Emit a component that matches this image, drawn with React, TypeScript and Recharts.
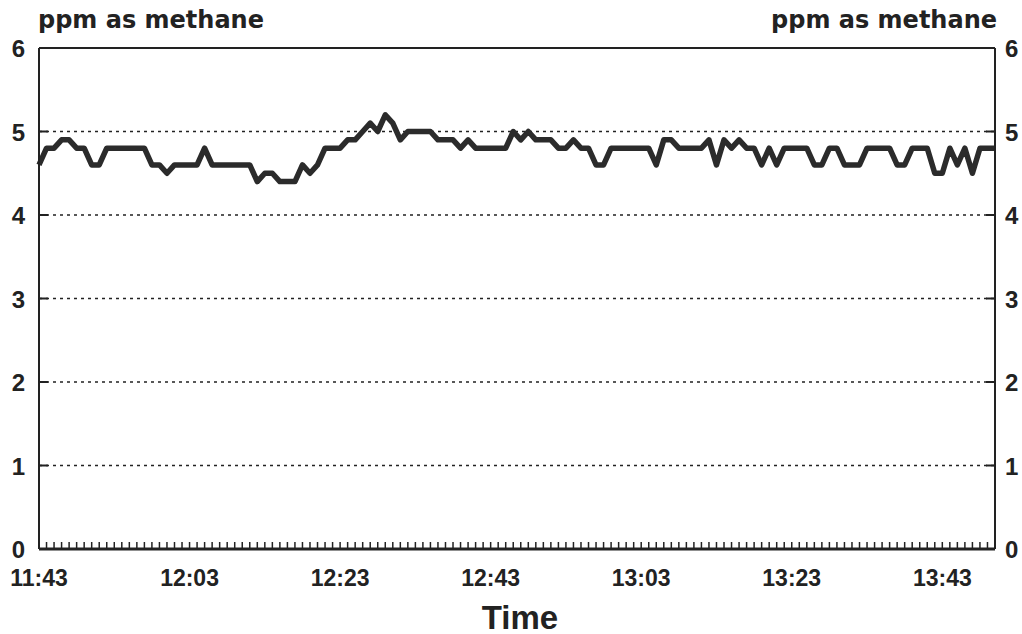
import { LineChart, Line, XAxis, YAxis, CartesianGrid, ReferenceLine } from 'recharts';

// minutes after 11:43, one reading per minute
const minutes = Array.from({ length: 128 }, (_, i) => i);
const ppm = [
  4.6, 4.8, 4.8, 4.9, 4.9, 4.8, 4.8, 4.6, 4.6, 4.8,
  4.8, 4.8, 4.8, 4.8, 4.8, 4.6, 4.6, 4.5, 4.6, 4.6,
  4.6, 4.6, 4.8, 4.6, 4.6, 4.6, 4.6, 4.6, 4.6, 4.4,
  4.5, 4.5, 4.4, 4.4, 4.4, 4.6, 4.5, 4.6, 4.8, 4.8,
  4.8, 4.9, 4.9, 5.0, 5.1, 5.0, 5.2, 5.1, 4.9, 5.0,
  5.0, 5.0, 5.0, 4.9, 4.9, 4.9, 4.8, 4.9, 4.8, 4.8,
  4.8, 4.8, 4.8, 5.0, 4.9, 5.0, 4.9, 4.9, 4.9, 4.8,
  4.8, 4.9, 4.8, 4.8, 4.6, 4.6, 4.8, 4.8, 4.8, 4.8,
  4.8, 4.8, 4.6, 4.9, 4.9, 4.8, 4.8, 4.8, 4.8, 4.9,
  4.6, 4.9, 4.8, 4.9, 4.8, 4.8, 4.6, 4.8, 4.6, 4.8,
  4.8, 4.8, 4.8, 4.6, 4.6, 4.8, 4.8, 4.6, 4.6, 4.6,
  4.8, 4.8, 4.8, 4.8, 4.6, 4.6, 4.8, 4.8, 4.8, 4.5,
  4.5, 4.8, 4.6, 4.8, 4.5, 4.8, 4.8, 4.8,
];
const labelMinutes = [0, 20, 40, 60, 80, 100, 120];
const timeLabels = ['11:43', '12:03', '12:23', '12:43', '13:03', '13:23', '13:43'];
const yTicks = [0, 1, 2, 3, 4, 5, 6];

const data = minutes.map((m, i) => ({ minute: m, ppm: ppm[i] }));

const INK = '#222';
const TICK_FONT = '"Liberation Sans", Arial, sans-serif';

const XTick = (props: any) => {
  const { x, y, payload } = props;
  const idx = labelMinutes.indexOf(payload.value);
  return (
    <g>
      <line x1={x} x2={x} y1={y} y2={y - 7} stroke={INK} strokeWidth={1.5} />
      {idx >= 0 && (
        <text x={x} y={y + 37} textAnchor="middle" fill={INK} fontFamily={TICK_FONT} fontWeight={700} fontSize={23}>
          {timeLabels[idx]}
        </text>
      )}
    </g>
  );
};

const LeftTick = (props: any) => {
  const { x, y, payload } = props;
  const inner = payload.value > 0 && payload.value < 6;
  return (
    <g>
      {inner && <path d={`M${x},${y}h9`} stroke={INK} strokeWidth={2} fill="none" />}
      <text x={x - 14} y={y + 9} textAnchor="end" fill={INK} fontFamily={TICK_FONT} fontWeight={700} fontSize={24}>
        {payload.value}
      </text>
    </g>
  );
};

const RightTick = (props: any) => {
  const { x, y, payload } = props;
  const inner = payload.value > 0 && payload.value < 6;
  return (
    <g>
      {inner && <path d={`M${x},${y}h-9`} stroke={INK} strokeWidth={2} fill="none" />}
      <text x={x + 10} y={y + 9} textAnchor="start" fill={INK} fontFamily={TICK_FONT} fontWeight={700} fontSize={24}>
        {payload.value}
      </text>
    </g>
  );
};

const titleStyle: React.CSSProperties = {
  position: 'absolute',
  top: 8,
  fontFamily: '"DejaVu Sans", sans-serif',
  fontWeight: 700,
  fontSize: 24,
  lineHeight: '24px',
  color: INK,
  whiteSpace: 'nowrap',
};

export default function App() {
  return (
    <div style={{ position: 'absolute', left: 0, top: 0, width: 1022, height: 634, background: '#fff' }}>
      <LineChart width={1022} height={634} data={data} margin={{ top: 48, right: 0, bottom: 25, left: 0 }}>
        <CartesianGrid
          yAxisId="left"
          vertical={false}
          horizontal
          stroke={INK}
          strokeWidth={1.5}
          strokeDasharray="3 4"
        />
        <XAxis
          dataKey="minute"
          type="number"
          domain={[0, 127]}
          ticks={minutes}
          interval={0}
          height={60}
          tickSize={0}
          tickMargin={0}
          axisLine={{ stroke: INK, strokeWidth: 3 }}
          tickLine={false}
          tick={<XTick />}
        />
        <YAxis
          yAxisId="left"
          orientation="left"
          width={39}
          domain={[0, 6]}
          ticks={yTicks}
          interval={0}
          tickSize={0}
          tickMargin={0}
          axisLine={{ stroke: INK, strokeWidth: 2 }}
          tickLine={false}
          tick={<LeftTick />}
        />
        <YAxis
          yAxisId="right"
          orientation="right"
          width={27}
          domain={[0, 6]}
          ticks={yTicks}
          interval={0}
          tickSize={0}
          tickMargin={0}
          axisLine={{ stroke: INK, strokeWidth: 2 }}
          tickLine={false}
          tick={<RightTick />}
        />
        <ReferenceLine yAxisId="left" y={6} stroke={INK} strokeWidth={2} />
        {/* invisible twin so the right axis gets its ticks */}
        <Line
          yAxisId="right"
          type="linear"
          dataKey="ppm"
          stroke="none"
          dot={false}
          activeDot={false}
          isAnimationActive={false}
        />
        <Line
          yAxisId="left"
          type="linear"
          dataKey="ppm"
          stroke="#2b2b2b"
          strokeWidth={5.5}
          strokeLinejoin="round"
          dot={false}
          isAnimationActive={false}
        />
      </LineChart>
      <div style={{ ...titleStyle, left: 38 }}>ppm as methane</div>
      <div style={{ ...titleStyle, right: 25 }}>ppm as methane</div>
      <div
        style={{
          position: 'absolute',
          left: 0,
          width: 1040,
          top: 602,
          textAlign: 'center',
          fontFamily: TICK_FONT,
          fontWeight: 700,
          fontSize: 33,
          lineHeight: '32px',
          color: INK,
        }}
      >
        Time
      </div>
    </div>
  );
}
